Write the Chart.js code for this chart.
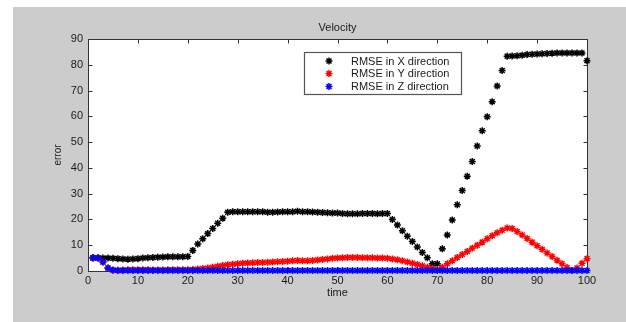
<!DOCTYPE html>
<html>
<head>
<meta charset="utf-8">
<script src="https://cdn.jsdelivr.net/npm/chart.js@4/dist/chart.umd.min.js"></script>
<style>
html,body{margin:0;padding:0;background:#fff;}
#wrap{width:626px;height:322px;}
</style>
</head>
<body>
<div id="wrap"><canvas id="c" width="626" height="322"></canvas></div>
<script>
const title = 'Velocity';
const xTitle = 'time';
const yTitle = 'error';
const seriesLabels = ['RMSE in X direction', 'RMSE in Y direction', 'RMSE in Z direction'];
const time = [1,2,3,4,5,6,7,8,9,10,11,12,13,14,15,16,17,18,19,20,21,22,23,24,25,26,27,28,29,30,31,32,33,34,35,36,37,38,39,40,41,42,43,44,45,46,47,48,49,50,51,52,53,54,55,56,57,58,59,60,61,62,63,64,65,66,67,68,69,70,71,72,73,74,75,76,77,78,79,80,81,82,83,84,85,86,87,88,89,90,91,92,93,94,95,96,97,98,99,100];
const rmseX = [
5.2,5.1,5.0,5.0,4.9,4.8,4.7,4.6,4.7,4.8,
5.0,5.1,5.2,5.3,5.4,5.5,5.5,5.5,5.5,5.6,
8.0,10.5,12.5,14.5,16.5,18.5,20.5,22.8,23.0,23.0,
23.0,23.0,23.0,23.0,23.0,22.8,22.8,22.9,23.0,23.0,
23.0,23.2,23.0,23.0,22.9,22.8,22.7,22.6,22.5,22.5,
22.3,22.2,22.2,22.2,22.3,22.3,22.3,22.2,22.3,22.3,
20.0,17.8,15.6,13.5,11.4,9.3,7.2,5.1,2.8,2.8,
8.6,14.0,19.8,25.7,31.2,36.8,42.5,48.5,54.4,59.8,
65.7,71.8,77.8,83.3,83.4,83.5,83.7,84.0,84.1,84.2,
84.3,84.4,84.5,84.6,84.6,84.6,84.6,84.6,84.6,81.6];
const rmseY = [
5.0,5.0,3.5,1.2,0.3,0.3,0.4,0.5,0.5,0.5,
0.5,0.5,0.4,0.4,0.4,0.5,0.5,0.5,0.5,0.5,
0.6,0.8,1.0,1.2,1.5,1.8,2.1,2.4,2.6,2.8,
3.0,3.1,3.2,3.3,3.3,3.4,3.5,3.6,3.7,3.8,
4.0,4.1,4.0,4.0,4.1,4.3,4.5,4.7,4.9,5.0,
5.1,5.2,5.2,5.2,5.1,5.1,5.1,5.0,5.0,4.9,
4.7,4.4,4.0,3.5,3.0,2.5,2.0,1.5,1.0,0.5,
1.5,2.8,4.0,5.2,6.4,7.6,8.8,10.0,11.2,12.5,
13.7,14.8,15.8,16.7,16.5,15.3,14.0,12.6,11.2,9.8,
8.4,7.0,5.6,4.2,2.8,1.4,0.2,1.2,3.0,4.8];
const rmseZ = [
5.0,5.0,3.5,1.2,0.4,0.2,0.2,0.2,0.2,0.2,
0.2,0.2,0.2,0.2,0.2,0.2,0.2,0.2,0.2,0.2,
0.2,0.2,0.2,0.2,0.2,0.2,0.2,0.2,0.2,0.2,
0.2,0.2,0.2,0.2,0.2,0.2,0.2,0.2,0.2,0.2,
0.2,0.2,0.2,0.2,0.2,0.2,0.2,0.2,0.2,0.2,
0.2,0.2,0.2,0.2,0.2,0.2,0.2,0.2,0.2,0.2,
0.2,0.2,0.2,0.2,0.2,0.2,0.2,0.2,0.2,0.2,
0.2,0.2,0.2,0.2,0.2,0.2,0.2,0.2,0.2,0.2,
0.2,0.2,0.2,0.2,0.2,0.2,0.2,0.2,0.2,0.2,
0.2,0.2,0.2,0.2,0.2,0.2,0.2,0.2,0.2,0.2];
const xTicks = [0,10,20,30,40,50,60,70,80,90,100];
const yTicks = [0,10,20,30,40,50,60,70,80,90];
const colors = ['#000000', '#ff0000', '#0000ff'];

const FONT = 'Liberation Sans, Arial, Helvetica, sans-serif';
const toPts = (ys) => ys.map((v, i) => ({x: time[i], y: v}));

const decor = {
  id: 'decor',
  beforeDraw(chart) {
    const {ctx, chartArea: a, width, height} = chart;
    ctx.save();
    ctx.fillStyle = '#ffffff';
    ctx.fillRect(0, 0, width, height);
    ctx.fillStyle = '#cccccc';
    ctx.fillRect(13, 7, width - 13, height - 7);
    ctx.fillStyle = '#ffffff';
    ctx.fillRect(a.left, a.top, a.right - a.left, a.bottom - a.top);
    ctx.restore();
  },
  beforeDatasetsDraw(chart) {
    const {ctx, chartArea: a, scales} = chart;
    ctx.save();
    ctx.strokeStyle = '#333333';
    ctx.lineWidth = 1;
    ctx.beginPath();
    const L = Math.round(a.left) + 0.5, R = Math.round(a.right) + 0.5;
    const T = Math.round(a.top) + 0.5, B = Math.round(a.bottom) + 0.5;
    ctx.rect(L, T, R - L, B - T);
    const tl = 4;
    xTicks.forEach(v => {
      const px = Math.round(scales.x.getPixelForValue(v)) + 0.5;
      ctx.moveTo(px, B); ctx.lineTo(px, B - tl);
      ctx.moveTo(px, T); ctx.lineTo(px, T + tl);
    });
    yTicks.forEach(v => {
      const py = Math.round(scales.y.getPixelForValue(v)) + 0.5;
      ctx.moveTo(L, py); ctx.lineTo(L + tl, py);
      ctx.moveTo(R, py); ctx.lineTo(R - tl, py);
    });
    ctx.stroke();
    ctx.restore();
  },
  afterDraw(chart) {
    const {ctx} = chart;
    ctx.save();
    const bx = 304.5, by = 52.5, bw = 157, bh = 42;
    ctx.fillStyle = '#ffffff';
    ctx.fillRect(bx, by, bw, bh);
    ctx.strokeStyle = '#555555';
    ctx.lineWidth = 1.2;
    ctx.strokeRect(bx, by, bw, bh);
    const rows = [61, 73.5, 86.5];
    ctx.font = '11px ' + FONT;
    ctx.textBaseline = 'middle';
    ctx.textAlign = 'left';
    chart.data.datasets.slice().sort((p, q) => p.legendIndex - q.legendIndex).forEach((ds, i) => {
      ctx.strokeStyle = ds.borderColor;
      ctx.lineWidth = 1.5;
      Chart.helpers.drawPoint(ctx, {pointStyle: 'star', radius: 3.5, borderWidth: 1.5, rotation: 0}, 329, rows[i]);
      ctx.fillStyle = '#1a1a1a';
      ctx.fillText(ds.label, 351, rows[i] + 0.5);
    });
    ctx.restore();
  }
};

const mk = (label, data, color, order, li) => ({
  label, data: toPts(data), borderColor: color, backgroundColor: color,
  showLine: false, pointStyle: 'star', pointRadius: 3.5, pointBorderWidth: 1.5,
  pointHoverRadius: 3.5, order, legendIndex: li, clip: false, xAxisID: 'x', yAxisID: 'y'
});

new Chart(document.getElementById('c'), {
  type: 'scatter',
  data: {
    datasets: [
      mk(seriesLabels[0], rmseX, colors[0], 3, 0),
      mk(seriesLabels[1], rmseY, colors[1], 2, 1),
      mk(seriesLabels[2], rmseZ, colors[2], 1, 2)
    ]
  },
  options: {
    responsive: false,
    animation: false,
    events: [],
    layout: {padding: {left: 0, right: 39, top: 0, bottom: 0}},
    plugins: {legend: {display: false}, title: {display: false}, tooltip: {enabled: false}},
    scales: {
      x: {
        type: 'linear', position: 'bottom', min: 0, max: 100,
        afterFit(s) { s.height = 51; },
        afterBuildTicks(s) { s.ticks = xTicks.map(v => ({value: v})); },
        grid: {display: false, drawTicks: false},
        border: {display: false},
        ticks: {padding: 3, color: '#1a1a1a', font: {family: FONT, size: 11}, maxRotation: 0, autoSkip: false},
        title: {display: true, text: xTitle, color: '#1a1a1a', font: {family: FONT, size: 11}, padding: {top: 0, bottom: 22.4}}
      },
      x2: {
        type: 'linear', position: 'top', min: 0, max: 100,
        afterFit(s) { s.height = 39; },
        grid: {display: false, drawTicks: false},
        border: {display: false},
        ticks: {display: false},
        title: {display: true, text: title, color: '#1a1a1a', font: {family: FONT, size: 11}, padding: {top: 21.4, bottom: 0}}
      },
      y: {
        type: 'linear', position: 'left', min: 0, max: 90,
        afterFit(s) { s.width = 88; },
        afterBuildTicks(s) { s.ticks = yTicks.map(v => ({value: v})); },
        grid: {display: false, drawTicks: false},
        border: {display: false},
        ticks: {padding: 5, color: '#1a1a1a', font: {family: FONT, size: 11}, autoSkip: false},
        title: {display: true, text: yTitle, color: '#1a1a1a', font: {family: FONT, size: 10}, padding: {top: 52, bottom: 0}}
      }
    }
  },
  plugins: [decor]
});
</script>
</body>
</html>
